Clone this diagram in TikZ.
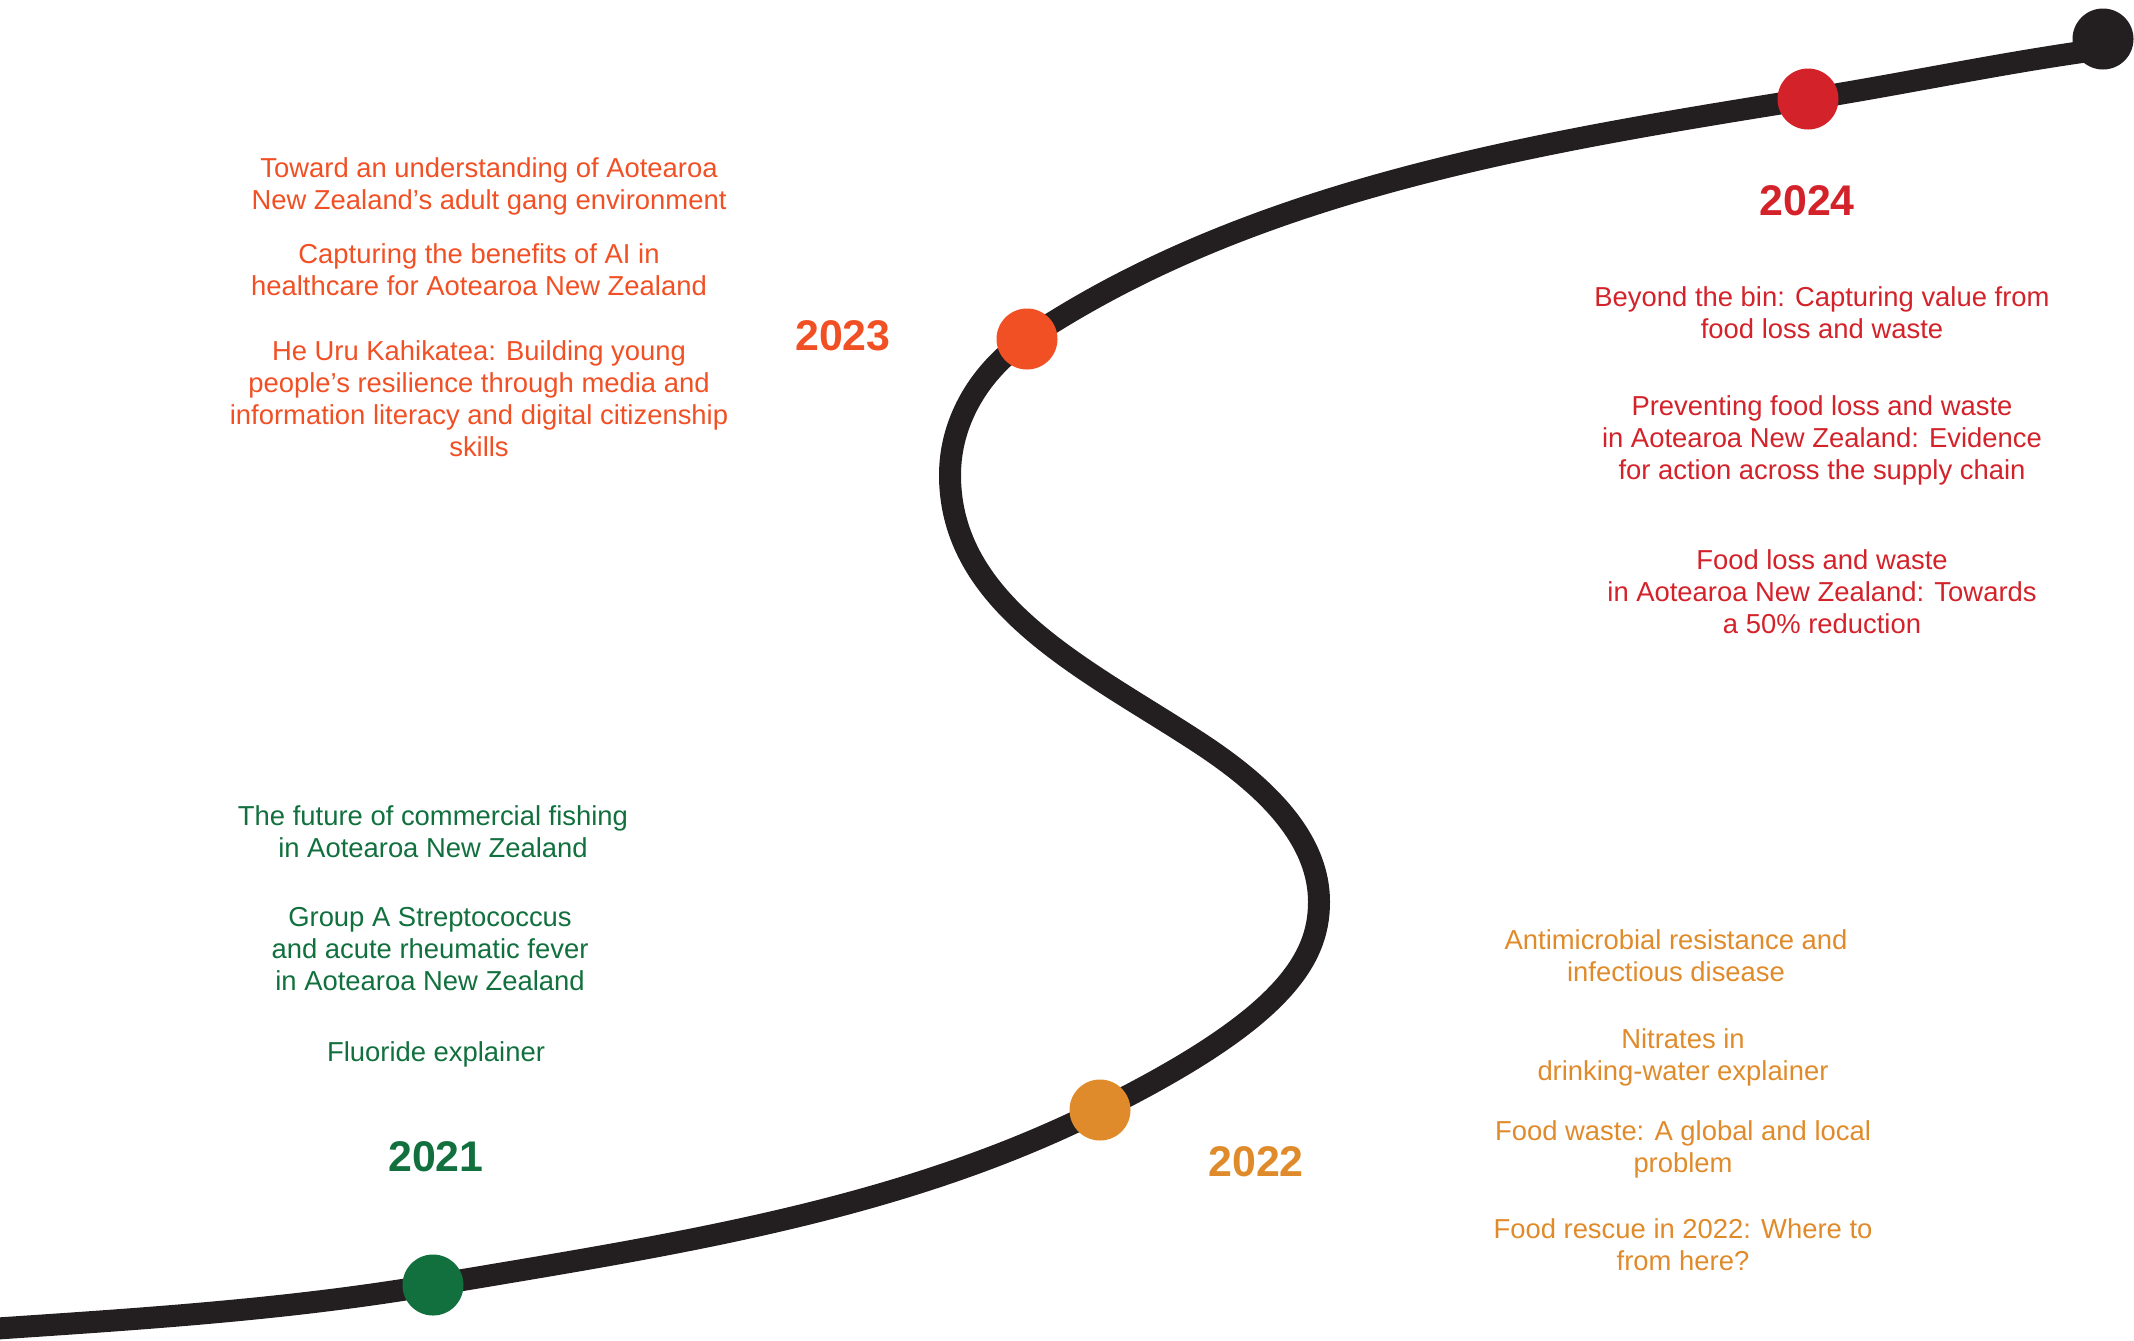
\documentclass[tikz,border=0pt]{standalone}
\usepackage{fontspec}
\setmainfont{Liberation Sans}
\usepackage{tikz}

\definecolor{colLine}{RGB}{35,31,32}
\definecolor{col2021}{RGB}{17,112,61}
\definecolor{col2022}{RGB}{224,139,43}
\definecolor{col2023}{RGB}{241,80,37}
\definecolor{col2024}{RGB}{211,34,42}

\newcommand{\tlItemFont}{\fontsize{7.8}{9.1}\selectfont}
\newcommand{\tlYearFont}{\fontsize{12.2}{13}\selectfont\bfseries}

\begin{document}
\begin{tikzpicture}[x=0.1mm,y=-0.1mm]
	\useasboundingbox (0,0) rectangle (2134,1340);
	\begin{scope}
		[
			styleLine/.style={draw=colLine, line width=2.2mm},
			styleDot/.style={circle, fill=#1, minimum size=6.1mm, inner sep=0},
			styleYear/.style={text=#1, font=\tlYearFont, inner sep=0},
			styleItem/.style={text=#1, font=\tlItemFont, align=center, anchor=north, inner sep=0},
		]
		% stops and turning points of the line
		\coordinate (pStart) at (-10,1329);
		\coordinate (p2021) at (433,1285);
		\coordinate (p2022) at (1100,1110);
		\coordinate (pRight) at (1319,902);
		\coordinate (pMid) at (1195,740);
		\coordinate (pLeft) at (950,475);
		\coordinate (p2023) at (1027,339);
		\coordinate (p2024) at (1808,99);
		\coordinate (pEnd) at (2096,50);

		% the winding line
		\draw[styleLine] (pStart)
			.. controls (138,1319) and (285,1310) .. (p2021)
			.. controls (663,1246) and (894,1213) .. (p2022)
			.. controls (1279,1021) and (1319,962) .. (pRight)
			.. controls (1319,832) and (1254,778) .. (pMid)
			.. controls (1086,669) and (950,605) .. (pLeft)
			.. controls (950,420) and (981,370) .. (p2023)
			.. controls (1253,188) and (1540,142) .. (p2024)
			.. controls (1903,84) and (2001,63) .. (pEnd);

		\node(d2021)[styleDot=col2021] at (p2021) {};
		\node(d2022)[styleDot=col2022] at (p2022) {};
		\node(d2023)[styleDot=col2023] at (p2023) {};
		\node(d2024)[styleDot=col2024] at (p2024) {};
		\node(dEnd)[styleDot=colLine] at (2103,39) {};

		% 2021
		\node(y2021)[styleYear=col2021] at (436,1157) {2021};
		\node(t2021a)[styleItem=col2021] at (433,805) {The future of commercial fishing\\in Aotearoa New Zealand};
		\node(t2021b)[styleItem=col2021] at (430,907) {Group A Streptococcus\\and acute rheumatic fever\\in Aotearoa New Zealand};
		\node(t2021c)[styleItem=col2021] at (436,1041) {Fluoride explainer};

		% 2022
		\node(y2022)[styleYear=col2022] at (1256,1162) {2022};
		\node(t2022a)[styleItem=col2022] at (1676,929) {Antimicrobial resistance and\\infectious disease};
		\node(t2022b)[styleItem=col2022] at (1683,1028) {Nitrates in\\drinking-water explainer};
		\node(t2022c)[styleItem=col2022] at (1683,1120) {Food waste: A global and local\\problem};
		\node(t2022d)[styleItem=col2022] at (1683,1218) {Food rescue in 2022: Where to\\from here?};

		% 2023
		\node(y2023)[styleYear=col2023] at (843,336) {2023};
		\node(t2023a)[styleItem=col2023] at (489,157) {Toward an understanding of Aotearoa\\New Zealand’s adult gang environment};
		\node(t2023b)[styleItem=col2023] at (479,243) {Capturing the benefits of AI in\\healthcare for Aotearoa New Zealand};
		\node(t2023c)[styleItem=col2023] at (479,340) {He Uru Kahikatea: Building young\\people’s resilience through media and\\information literacy and digital citizenship\\skills};

		% 2024
		\node(y2024)[styleYear=col2024] at (1807,201) {2024};
		\node(t2024a)[styleItem=col2024] at (1822,286) {Beyond the bin: Capturing value from\\food loss and waste};
		\node(t2024b)[styleItem=col2024] at (1822,395) {Preventing food loss and waste\\in Aotearoa New Zealand: Evidence\\for action across the supply chain};
		\node(t2024c)[styleItem=col2024] at (1822,549) {Food loss and waste\\in Aotearoa New Zealand: Towards\\a 50\% reduction};
	\end{scope}
\end{tikzpicture}
\end{document}
